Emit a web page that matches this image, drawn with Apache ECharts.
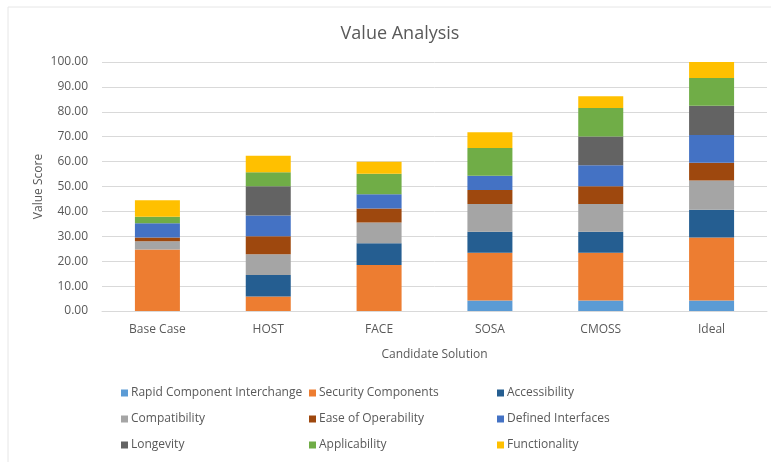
<!DOCTYPE html>
<html>
<head>
<meta charset="utf-8">
<script src="https://cdn.jsdelivr.net/npm/echarts@6/dist/echarts.min.js"></script>
<style>
html, body { margin: 0; padding: 0; background: #fff; }
#main { width: 771px; height: 462px; }
</style>
</head>
<body>
<div id="main"></div>
<script>
var categories = ["Base Case", "HOST", "FACE", "SOSA", "CMOSS", "Ideal"];
var seriesNames = ["Rapid Component Interchange", "Security Components", "Accessibility",
  "Compatibility", "Ease of Operability", "Defined Interfaces",
  "Longevity", "Applicability", "Functionality"];
var colors = ["#5B9BD5", "#ED7D31", "#255E91", "#A5A5A5", "#9E480E", "#4472C4", "#636363", "#70AD47", "#FFC000"];

var rapid = [0, 0, 0, 4.2, 4.2, 4.2];
var security = [24.7, 5.8, 18.5, 19.2, 19.2, 25.3];
var accessibility = [0, 8.7, 8.7, 8.4, 8.4, 11.2];
var compatibility = [3.3, 8.3, 8.3, 11.2, 11.2, 11.7];
var easeOfOperability = [1.5, 7.2, 5.7, 5.6, 7.1, 7.1];
var definedInterfaces = [5.7, 8.4, 5.7, 5.7, 8.4, 11.2];
var longevity = [0, 11.7, 0, 0, 11.6, 11.7];
var applicability = [2.7, 5.6, 8.2, 11.2, 11.4, 11.2];
var functionality = [6.6, 6.6, 4.8, 6.3, 4.7, 6.4];

var values = [rapid, security, accessibility, compatibility, easeOfOperability,
  definedInterfaces, longevity, applicability, functionality];

var font = "Open Sans";
var textColor = "#595959";

var series = seriesNames.map(function (name, i) {
  return {
    name: name,
    type: "bar",
    stack: "total",
    barWidth: 45,
    itemStyle: { color: colors[i] },
    data: values[i]
  };
});

function legendColumn(idx, left) {
  return {
    orient: "vertical",
    left: left,
    top: 381,
    itemWidth: 7,
    itemHeight: 7,
    itemGap: 12,
    icon: "rect",
    textStyle: { fontFamily: font, fontSize: 12, color: textColor, lineHeight: 14, padding: [0, 0, 0, -2] },
    data: [seriesNames[idx], seriesNames[idx + 3], seriesNames[idx + 6]]
  };
}

var myChart = echarts.init(document.getElementById("main"));
var option = {
  animation: false,
  backgroundColor: "#fff",
  color: colors,
  title: {
    text: "Value Analysis",
    left: 395,
    top: 20,
    textAlign: "center",
    textStyle: { fontFamily: font, fontSize: 18, fontWeight: "normal", color: textColor }
  },
  graphic: [{
    type: "rect",
    shape: { x: 8, y: 7, width: 800, height: 500 },
    style: { fill: "none", stroke: "#e6e6e6", lineWidth: 1 },
    silent: true
  }],
  legend: [
    legendColumn(0, 116),
    legendColumn(1, 304),
    legendColumn(2, 492)
  ],
  grid: { left: 102, right: 4, top: 62, bottom: 151 },
  xAxis: {
    type: "category",
    data: categories,
    name: "Candidate Solution",
    nameLocation: "middle",
    nameGap: 38,
    nameTextStyle: { fontFamily: font, fontSize: 12, color: textColor },
    axisTick: { show: false },
    axisLine: { lineStyle: { color: "#d9d9d9" } },
    axisLabel: { fontFamily: font, fontSize: 12, color: textColor, margin: 13 }
  },
  yAxis: {
    type: "value",
    min: 0,
    max: 100,
    interval: 10,
    name: "Value Score",
    nameLocation: "middle",
    nameGap: 57,
    nameMoveOverlap: false,
    nameTextStyle: { fontFamily: font, fontSize: 12, color: textColor },
    axisLine: { show: false },
    axisTick: { show: false },
    axisLabel: {
      fontFamily: font, fontSize: 12, color: textColor, margin: 14,
      formatter: function (v) { return v.toFixed(2); }
    },
    splitLine: { lineStyle: { color: "#d9d9d9" } }
  },
  series: series
};
myChart.setOption(option);
</script>
</body>
</html>
